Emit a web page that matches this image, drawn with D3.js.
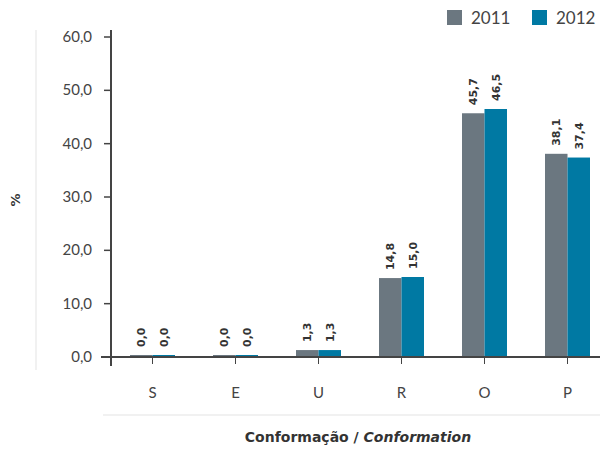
<!DOCTYPE html>
<html>
<head>
<meta charset="utf-8">
<script src="https://cdn.jsdelivr.net/npm/d3@7"></script>
<style>
  body { margin: 0; background: #fff; }
  text { font-family: Lato, "DejaVu Sans", sans-serif; }
</style>
</head>
<body>
<div id="chart"></div>
<script>
// dados
var categories = ['S', 'E', 'U', 'R', 'O', 'P'];
var years = ['2011', '2012'];
var values2011 = [0.0, 0.0, 1.3, 14.8, 45.7, 38.1];
var values2012 = [0.0, 0.0, 1.3, 15.0, 46.5, 37.4];
var yTicks = [0, 10, 20, 30, 40, 50, 60];
var colors = ['#6b7780', '#0079a3'];

var width = 600, height = 449;
var x0 = 111, xEnd = 609, yTop = 37, yBottom = 357;

var svg = d3.select('#chart').append('svg')
    .attr('width', width).attr('height', height);

var x = d3.scaleBand().domain(categories).range([x0, xEnd]);
var xs = d3.scaleBand().domain(years).range([-22.5, 22.5]);
var y = d3.scaleLinear().domain([0, 60]).range([yBottom, yTop]);
var fmt = function (v) { return d3.format('.1f')(v).replace('.', ','); };

// linhas cinza claras
svg.append('line').attr('x1', 36).attr('y1', 30).attr('x2', 36).attr('y2', 370)
    .style('stroke', '#e3e3e3').style('stroke-width', 1);
svg.append('line').attr('x1', 103).attr('y1', 415).attr('x2', 600).attr('y2', 415)
    .style('stroke', '#e3e3e3').style('stroke-width', 1);

// barras
var rows = categories.map(function (c, i) {
    return { cat: c, vals: [values2011[i], values2012[i]] };
});
var groups = svg.selectAll('g.cat').data(rows).enter().append('g')
    .attr('class', 'cat')
    .attr('transform', function (d) { return 'translate(' + (x(d.cat) + x.bandwidth() / 2) + ',0)'; });

groups.selectAll('rect').data(function (d) { return d.vals; }).enter().append('rect')
    .attr('x', function (d, i) { return xs(years[i]); })
    .attr('width', xs.bandwidth())
    .attr('y', function (d) { return Math.min(y(d), yBottom - 2); })
    .attr('height', function (d) { return Math.max(yBottom - y(d), 2); })
    .attr('fill', function (d, i) { return colors[i]; });

// rótulos de valor
groups.selectAll('text.val').data(function (d) { return d.vals; }).enter().append('text')
    .attr('class', 'val')
    .attr('transform', function (d, i) {
        var cx = xs(years[i]) + xs.bandwidth() / 2 + 4;
        var cy = Math.min(y(d), yBottom - 2) - 8;
        return 'translate(' + cx + ',' + cy + ') rotate(-90)';
    })
    .style('font-family', '"DejaVu Sans", sans-serif')
    .style('font-size', '11px').style('font-weight', 'bold').style('fill', '#333')
    .text(fmt);

// eixo Y
svg.append('line').attr('x1', x0).attr('y1', 30).attr('x2', x0).attr('y2', 366)
    .style('stroke', '#444').style('stroke-width', 2);
yTicks.forEach(function (t) {
    svg.append('line').attr('x1', x0 - 7).attr('y1', y(t)).attr('x2', x0).attr('y2', y(t))
        .style('stroke', '#444').style('stroke-width', 1.5);
    svg.append('text').text(fmt(t))
        .attr('x', 92).attr('y', y(t) + 5)
        .attr('text-anchor', 'end')
        .style('font-size', '15px').style('fill', '#444');
});

// eixo X
svg.append('line').attr('x1', 101).attr('y1', yBottom).attr('x2', 600).attr('y2', yBottom)
    .style('stroke', '#444').style('stroke-width', 2);
categories.forEach(function (c) {
    var cx = x(c) + x.bandwidth() / 2;
    svg.append('line').attr('x1', cx).attr('y1', yBottom).attr('x2', cx).attr('y2', yBottom + 7)
        .style('stroke', '#444').style('stroke-width', 1);
    svg.append('text').text(c)
        .attr('x', cx).attr('y', 398)
        .attr('text-anchor', 'middle')
        .style('font-size', '15px').style('fill', '#444');
});

// títulos
svg.append('text')
    .attr('transform', 'translate(20,200) rotate(-90)')
    .attr('text-anchor', 'middle')
    .style('font-family', '"DejaVu Sans", sans-serif')
    .style('font-size', '13px').style('font-weight', 'bold').style('fill', '#333')
    .text('%');

var xt = svg.append('text').attr('x', 358).attr('y', 442).attr('text-anchor', 'middle')
    .style('font-family', '"DejaVu Sans", sans-serif')
    .style('font-size', '14px').style('font-weight', 'bold').style('fill', '#333');
xt.append('tspan').text('Conformação / ');
xt.append('tspan').style('font-style', 'italic').text('Conformation');

// legenda
var legX = [447, 532];
years.forEach(function (yr, i) {
    svg.append('rect').attr('x', legX[i]).attr('y', 10).attr('width', 15).attr('height', 15)
        .attr('fill', colors[i]);
    svg.append('text').text(yr)
        .attr('x', legX[i] + 24).attr('y', 24)
        .style('font-size', '17px').style('fill', '#444');
});
</script>
</body>
</html>
